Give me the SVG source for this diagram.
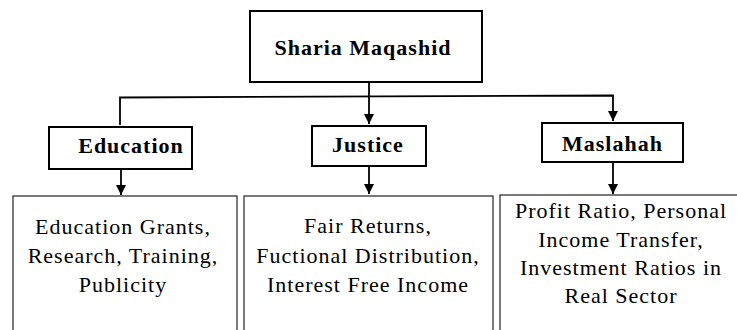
<svg xmlns="http://www.w3.org/2000/svg" width="737" height="330" viewBox="0 0 737 330">
<style>
.hbox{fill:#fff;stroke:#000;stroke-width:2}
.bbox{fill:#fff;stroke:#333;stroke-width:1.3}
text{font-family:"Liberation Serif","Times New Roman",Times,"DejaVu Serif",serif;fill:#000;text-anchor:middle;letter-spacing:1px;font-size:22px}
.ht{font-weight:bold}
.conn{fill:none;stroke:#000;stroke-width:1.8}
</style>
<defs>
<marker id="arr" markerUnits="userSpaceOnUse" markerWidth="11" markerHeight="11" refX="10" refY="5" orient="auto">
<path d="M0,0 L10,5 L0,10 z" fill="#000"/>
</marker>
</defs>
<rect width="737" height="330" fill="#fff"/>
<g id="connectors">
<path class="conn" d="M369,82 V124" marker-end="url(#arr)"/>
<path class="conn" d="M120,125 V97.5 L613,95.5 V121" marker-end="url(#arr)"/>
<path class="conn" d="M121,169 V195" marker-end="url(#arr)"/>
<path class="conn" d="M369,166 V194" marker-end="url(#arr)"/>
<path class="conn" d="M613,162 V194" marker-end="url(#arr)"/>
</g>
<g id="node-sharia">
<rect class="hbox" x="250" y="11" width="232" height="71"/>
<text class="ht" x="363" y="55">Sharia Maqashid</text>
</g>
<g id="node-education">
<rect class="hbox" x="49" y="127" width="143" height="42"/>
<text class="ht" x="131" y="153">Education</text>
</g>
<g id="node-justice">
<rect class="hbox" x="312" y="126" width="114" height="40"/>
<text class="ht" x="368" y="152">Justice</text>
</g>
<g id="node-maslahah">
<rect class="hbox" x="542" y="123" width="141" height="39"/>
<text class="ht" x="612.5" y="151">Maslahah</text>
</g>
<g id="node-edu-details">
<rect class="bbox" x="13" y="196" width="224" height="150"/>
<text x="123" y="234">Education Grants,</text>
<text x="123" y="263">Research, Training,</text>
<text x="123" y="292">Publicity</text>
</g>
<g id="node-justice-details">
<rect class="bbox" x="244" y="196" width="249" height="150"/>
<text x="368" y="233">Fair Returns,</text>
<text x="368" y="263">Fuctional Distribution,</text>
<text x="368" y="292">Interest Free Income</text>
</g>
<g id="node-maslahah-details">
<rect class="bbox" x="500" y="195" width="250" height="150"/>
<text x="621" y="218">Profit Ratio, Personal</text>
<text x="621" y="247">Income Transfer,</text>
<text x="621" y="275">Investment Ratios in</text>
<text x="621" y="303">Real Sector</text>
</g>
</svg>
